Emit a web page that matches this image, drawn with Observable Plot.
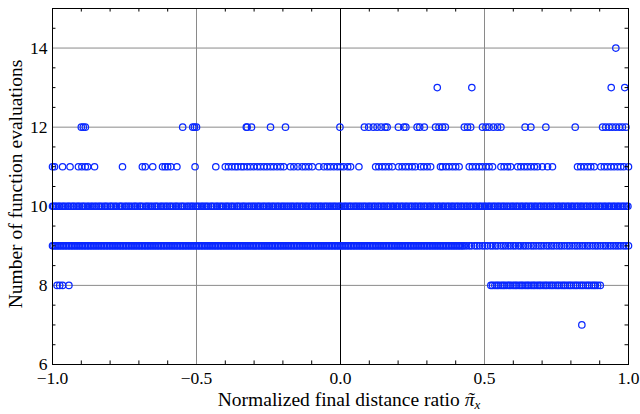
<!DOCTYPE html>
<html><head><meta charset="utf-8">
<script src="https://cdn.jsdelivr.net/npm/d3@7"></script>
<script src="https://cdn.jsdelivr.net/npm/@observablehq/plot@0.6"></script>
<style>
body{margin:0;background:#fff}
</style>
</head><body><div id="chart"></div>
<script>
// x values (normalized final distance ratio) of points at each function-evaluation count
const evals14 = [0.956];
const evals13 = [0.336, 0.456, 0.940, 0.987];
const evals12 = [-0.900,-0.893,-0.886,-0.548,-0.513,-0.507,-0.500,-0.327,-0.324,-0.309,-0.243,-0.191,-0.002,0.083,0.098,0.114,0.127,0.141,0.155,0.162,0.201,0.220,0.227,0.266,0.275,0.291,0.330,0.342,0.354,0.364,0.430,0.441,0.452,0.493,0.505,0.516,0.531,0.545,0.557,0.641,0.661,0.713,0.815,0.910,0.921,0.933,0.944,0.956,0.968,0.979,0.991];
const evals11 = [-1.000,-0.993,-0.965,-0.939,-0.910,-0.898,-0.886,-0.878,-0.854,-0.757,-0.688,-0.678,-0.652,-0.618,-0.609,-0.600,-0.589,-0.568,-0.505,-0.433,-0.400,-0.389,-0.377,-0.366,-0.357,-0.345,-0.336,-0.324,-0.313,-0.301,-0.289,-0.278,-0.266,-0.255,-0.243,-0.232,-0.220,-0.208,-0.197,-0.174,-0.162,-0.148,-0.133,-0.122,-0.110,-0.098,-0.075,-0.058,-0.046,-0.035,-0.023,-0.011,0.000,0.011,0.025,0.035,0.064,0.122,0.133,0.145,0.156,0.168,0.180,0.202,0.214,0.226,0.237,0.249,0.260,0.278,0.289,0.301,0.313,0.347,0.354,0.366,0.377,0.389,0.400,0.412,0.447,0.458,0.470,0.482,0.493,0.505,0.516,0.528,0.557,0.568,0.580,0.591,0.615,0.626,0.638,0.649,0.661,0.673,0.684,0.701,0.719,0.736,0.823,0.834,0.846,0.858,0.869,0.881,0.904,0.916,0.927,0.939,0.950,0.962,0.973,0.984,1.000];
const evals10 = [-1.000,-0.996,-0.990,-0.985,-0.978,-0.974,-0.966,-0.961,-0.955,-0.947,-0.943,-0.936,-0.929,-0.925,-0.917,-0.911,-0.906,-0.898,-0.893,-0.887,-0.879,-0.874,-0.866,-0.861,-0.853,-0.848,-0.840,-0.835,-0.828,-0.820,-0.815,-0.809,-0.800,-0.796,-0.789,-0.782,-0.777,-0.768,-0.763,-0.758,-0.749,-0.744,-0.737,-0.731,-0.724,-0.716,-0.712,-0.705,-0.697,-0.693,-0.686,-0.677,-0.672,-0.666,-0.659,-0.653,-0.645,-0.640,-0.634,-0.625,-0.620,-0.613,-0.606,-0.601,-0.593,-0.588,-0.581,-0.573,-0.569,-0.562,-0.554,-0.549,-0.543,-0.534,-0.529,-0.522,-0.516,-0.511,-0.503,-0.497,-0.491,-0.483,-0.478,-0.471,-0.465,-0.459,-0.450,-0.446,-0.439,-0.431,-0.427,-0.419,-0.413,-0.407,-0.399,-0.394,-0.388,-0.380,-0.375,-0.368,-0.360,-0.356,-0.349,-0.341,-0.336,-0.330,-0.322,-0.316,-0.309,-0.303,-0.297,-0.289,-0.284,-0.278,-0.270,-0.265,-0.258,-0.251,-0.246,-0.238,-0.233,-0.226,-0.219,-0.214,-0.206,-0.200,-0.194,-0.187,-0.181,-0.174,-0.168,-0.162,-0.154,-0.149,-0.142,-0.135,-0.130,-0.122,-0.117,-0.110,-0.103,-0.098,-0.090,-0.085,-0.078,-0.071,-0.066,-0.058,-0.052,-0.046,-0.039,-0.033,-0.026,-0.020,-0.014,-0.006,-0.001,0.005,0.013,0.018,0.025,0.032,0.037,0.045,0.051,0.057,0.064,0.070,0.077,0.083,0.089,0.097,0.102,0.109,0.116,0.121,0.129,0.134,0.141,0.148,0.153,0.161,0.166,0.173,0.180,0.185,0.193,0.198,0.205,0.212,0.217,0.225,0.230,0.237,0.244,0.249,0.257,0.262,0.269,0.276,0.281,0.289,0.294,0.301,0.308,0.313,0.321,0.326,0.333,0.340,0.345,0.353,0.358,0.365,0.372,0.377,0.385,0.390,0.397,0.404,0.409,0.417,0.422,0.429,0.436,0.441,0.449,0.454,0.461,0.468,0.473,0.481,0.486,0.493,0.500,0.505,0.513,0.518,0.525,0.532,0.537,0.545,0.550,0.557,0.564,0.569,0.577,0.582,0.589,0.596,0.601,0.609,0.614,0.621,0.628,0.633,0.641,0.646,0.653,0.660,0.665,0.673,0.678,0.685,0.692,0.697,0.705,0.710,0.717,0.724,0.729,0.737,0.742,0.749,0.756,0.761,0.769,0.774,0.781,0.788,0.793,0.801,0.806,0.813,0.820,0.825,0.833,0.838,0.845,0.852,0.857,0.865,0.870,0.877,0.884,0.889,0.897,0.902,0.909,0.916,0.921,0.929,0.934,0.941,0.948,0.953,0.961,0.966,0.973,0.980,0.985,0.993,0.998];
const evals9 = [-1.000,-0.995,-0.989,-0.984,-0.978,-0.973,-0.967,-0.962,-0.956,-0.951,-0.945,-0.940,-0.934,-0.929,-0.923,-0.918,-0.912,-0.907,-0.901,-0.896,-0.890,-0.885,-0.879,-0.874,-0.868,-0.863,-0.857,-0.852,-0.846,-0.841,-0.835,-0.830,-0.824,-0.819,-0.813,-0.808,-0.802,-0.797,-0.791,-0.786,-0.780,-0.775,-0.769,-0.764,-0.758,-0.753,-0.747,-0.742,-0.736,-0.731,-0.725,-0.720,-0.714,-0.709,-0.703,-0.698,-0.692,-0.687,-0.681,-0.676,-0.670,-0.665,-0.659,-0.654,-0.648,-0.643,-0.637,-0.632,-0.626,-0.621,-0.615,-0.610,-0.604,-0.599,-0.593,-0.588,-0.582,-0.577,-0.571,-0.566,-0.560,-0.555,-0.549,-0.544,-0.538,-0.533,-0.527,-0.522,-0.516,-0.511,-0.505,-0.500,-0.494,-0.489,-0.483,-0.478,-0.472,-0.467,-0.461,-0.456,-0.450,-0.445,-0.439,-0.434,-0.428,-0.423,-0.417,-0.412,-0.406,-0.401,-0.395,-0.390,-0.384,-0.379,-0.373,-0.368,-0.362,-0.357,-0.351,-0.346,-0.340,-0.335,-0.329,-0.324,-0.318,-0.313,-0.307,-0.302,-0.296,-0.291,-0.285,-0.280,-0.274,-0.269,-0.263,-0.258,-0.252,-0.247,-0.241,-0.236,-0.230,-0.225,-0.219,-0.214,-0.208,-0.203,-0.197,-0.192,-0.186,-0.181,-0.175,-0.170,-0.164,-0.159,-0.153,-0.148,-0.142,-0.137,-0.131,-0.126,-0.120,-0.115,-0.109,-0.104,-0.098,-0.093,-0.087,-0.082,-0.076,-0.071,-0.065,-0.060,-0.054,-0.049,-0.043,-0.038,-0.032,-0.027,-0.021,-0.016,-0.010,-0.005,0.001,0.006,0.012,0.017,0.023,0.028,0.034,0.039,0.045,0.050,0.056,0.061,0.067,0.072,0.078,0.083,0.089,0.094,0.100,0.105,0.111,0.116,0.122,0.127,0.133,0.138,0.144,0.149,0.155,0.160,0.166,0.171,0.177,0.182,0.188,0.193,0.199,0.204,0.210,0.215,0.221,0.226,0.232,0.237,0.243,0.248,0.254,0.259,0.265,0.270,0.276,0.281,0.287,0.292,0.298,0.303,0.309,0.314,0.320,0.325,0.331,0.336,0.342,0.347,0.353,0.358,0.364,0.369,0.375,0.380,0.386,0.391,0.397,0.402,0.408,0.413,0.419,0.424,0.430,0.438,0.447,0.455,0.466,0.474,0.483,0.493,0.501,0.510,0.521,0.529,0.538,0.546,0.557,0.565,0.573,0.582,0.591,0.600,0.608,0.618,0.626,0.635,0.643,0.652,0.662,0.670,0.679,0.689,0.697,0.706,0.716,0.724,0.733,0.741,0.751,0.760,0.768,0.777,0.787,0.795,0.804,0.814,0.822,0.831,0.840,0.849,0.858,0.866,0.876,0.885,0.893,0.902,0.912,0.920,0.929,0.938,0.947,0.956,0.964,0.973,0.983,0.991,1.000];
const evals8 = [-0.984,-0.975,-0.965,-0.943,0.522,0.528,0.536,0.543,0.549,0.557,0.564,0.570,0.578,0.585,0.591,0.599,0.606,0.612,0.620,0.627,0.633,0.641,0.648,0.654,0.662,0.669,0.675,0.683,0.690,0.696,0.704,0.711,0.717,0.725,0.732,0.738,0.746,0.753,0.759,0.767,0.774,0.780,0.788,0.795,0.801,0.809,0.816,0.822,0.830,0.837,0.843,0.851,0.858,0.864,0.872,0.879,0.885,0.893,0.902];
const evals7 = [0.838];

const xTicks = [-1, -0.5, 0, 0.5, 1];
const xMinor = [-0.9,-0.8,-0.7,-0.6,-0.4,-0.3,-0.2,-0.1,0.1,0.2,0.3,0.4,0.6,0.7,0.8,0.9];
const yTicks = [6, 8, 10, 12, 14];
const yMinor = [6.5,7,7.5,8.5,9,9.5,10.5,11,11.5,12.5,13,13.5,14.5];
const xGrid = [-0.5, 0.5];
const yGrid = [8, 10, 12, 14];

const groups = [[14, evals14],[13, evals13],[12, evals12],[11, evals11],[10, evals10],[9, evals9],[8, evals8],[7, evals7]];
const points = groups.flatMap(([n, xs]) => xs.map(x => ({x, n})));

const blue = "rgb(10,40,255)";
const grid = "#8a8a8a";
const serif = "'Liberation Serif', 'Times New Roman', Times, serif";

const chart = Plot.plot({
  width: 640, height: 414,
  marginLeft: 52, marginRight: 12, marginTop: 8, marginBottom: 50,
  style: {fontFamily: serif, fontSize: "17.5px", background: "white", color: "black"},
  x: {domain: [-1, 1], ticks: xTicks, tickFormat: d3.format(".1f"), tickSize: 0, tickPadding: 7, label: null},
  y: {domain: [6, 15], ticks: yTicks, tickFormat: d3.format("d"), tickSize: 0, tickPadding: 5, label: null},
  marks: [
    Plot.ruleX(xGrid, {stroke: grid, strokeWidth: 1}),
    Plot.ruleY(yGrid, {stroke: grid, strokeWidth: 1}),
    Plot.ruleX([0], {stroke: "black", strokeWidth: 1}),
    Plot.dot(points, {x: "x", y: "n", r: 3.2, stroke: blue, strokeWidth: 1.25, fill: "none"}),
    Plot.ruleX(xMinor, {x: d => d, y1: 6, y2: 6.09, stroke: "black"}),
    Plot.ruleX(xMinor, {x: d => d, y1: 15, y2: 14.91, stroke: "black"}),
    Plot.ruleY(yMinor, {y: d => d, x1: -1, x2: -0.988, stroke: "black"}),
    Plot.ruleY(yMinor, {y: d => d, x1: 1, x2: 0.988, stroke: "black"}),
    Plot.frame({stroke: "black", strokeWidth: 1})
  ]
});
document.getElementById("chart").appendChild(chart);

const svg = d3.select(chart);
svg.selectAll("text").style("font-family", serif).style("font-size", "17.5px");

const xl = svg.append("text")
  .attr("x", 349).attr("y", 406)
  .attr("text-anchor", "middle")
  .attr("fill", "black")
  .style("font-family", serif).style("font-size", "19.5px");
xl.append("tspan").text("Normalized final distance ratio ");
const piSpan = xl.append("tspan").style("font-style", "italic").text("\u03C0");
const tildeSpan = xl.append("tspan").style("font-style", "italic").text("\u02DC");
const subSpan = xl.append("tspan").style("font-style", "italic").style("font-size", "13px").attr("dy", 3).text("x");
// centre the tilde over the pi
const wPi = piSpan.node().getComputedTextLength();
const wTilde = tildeSpan.node().getComputedTextLength();
tildeSpan.attr("dx", -(wPi / 2 + wTilde / 2) + 1);
subSpan.attr("dx", wPi / 2 - wTilde / 2 - 1);

svg.append("text")
  .attr("transform", "translate(21.5,184) rotate(-90)")
  .attr("text-anchor", "middle")
  .attr("fill", "black")
  .style("font-family", serif).style("font-size", "19.5px")
  .text("Number of function evaluations");
</script>
</body></html>
